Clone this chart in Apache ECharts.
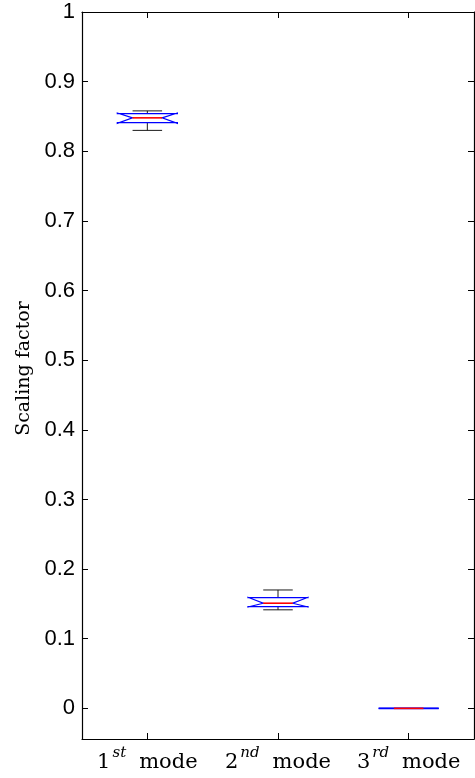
<!DOCTYPE html>
<html>
<head>
<meta charset="utf-8">
<script src="https://cdn.jsdelivr.net/npm/echarts@6/dist/echarts.min.js"></script>
<style>
  html, body { margin: 0; padding: 0; background: #fff; }
  #chart { width: 475px; height: 778px; }
</style>
</head>
<body>
<div id="chart"></div>
<script>
// Mode ordinals and their superscripts
const modeNumbers = ['1', '2', '3'];
const modeSuffixes = ['st', 'nd', 'rd'];

// Box statistics per mode
const whiskerLow  = [0.830, 0.1415, 0.000];
const quartile1   = [0.841, 0.146, 0.000];
const medians     = [0.848, 0.151, 0.000];
const quartile3   = [0.854, 0.159, 0.000];
const whiskerHigh = [0.858, 0.170, 0.000];
// Notch bounds around the median
const notchLow    = [0.840, 0.1455, 0.000];
const notchHigh   = [0.855, 0.1595, 0.000];

// Y tick values
const yTicks = [0, 0.1, 0.2, 0.3, 0.4, 0.5, 0.6, 0.7, 0.8, 0.9, 1];

const categories = modeNumbers.map((n, i) => n + '|' + modeSuffixes[i]);
const boxData = categories.map((c, i) => [i, whiskerLow[i], quartile1[i], medians[i], quartile3[i], whiskerHigh[i], notchLow[i], notchHigh[i]]);

function renderBox(params, api) {
  const idx = api.value(0);
  const band = api.size([1, 0])[0];
  const boxHalf = band * 0.23;
  const capHalf = band * 0.113;
  const notchHalf = band * 0.113;
  const y = k => api.coord([idx, api.value(k)])[1];
  const cx = api.coord([idx, 0])[0];
  const wLo = y(1), q1 = y(2), med = y(3), q3 = y(4), wHi = y(5), nLo = y(6), nHi = y(7);
  const L = cx - boxHalf, R = cx + boxHalf;
  const black = { stroke: '#1a1a1a', lineWidth: 1, fill: null };
  const children = [];
  if (wHi < q3 - 0.5) {
    children.push({ type: 'line', shape: { x1: cx, y1: wHi, x2: cx, y2: q3 }, style: black });
    children.push({ type: 'line', shape: { x1: cx - capHalf, y1: wHi, x2: cx + capHalf, y2: wHi }, style: black });
  }
  if (wLo > q1 + 0.5) {
    children.push({ type: 'line', shape: { x1: cx, y1: q1, x2: cx, y2: wLo }, style: black });
    children.push({ type: 'line', shape: { x1: cx - capHalf, y1: wLo, x2: cx + capHalf, y2: wLo }, style: black });
  }
  // notched box outline
  children.push({
    type: 'polygon',
    shape: { points: [
      [L, q3], [R, q3], [R, nHi], [cx + notchHalf, med], [R, nLo], [R, q1],
      [L, q1], [L, nLo], [cx - notchHalf, med], [L, nHi]
    ] },
    style: { stroke: '#0000ff', lineWidth: 1.2, fill: 'rgba(255,255,255,0)' }
  });
  if (Math.abs(q1 - q3) < 1) {
    children.push({ type: 'line', shape: { x1: L, y1: med, x2: R, y2: med }, style: { stroke: '#0000ff', lineWidth: 1.6 } });
  }
  children.push({ type: 'line', shape: { x1: cx - notchHalf, y1: med, x2: cx + notchHalf, y2: med }, style: { stroke: '#ff0000', lineWidth: 1.6 } });
  return { type: 'group', children };
}

const tickFmt = v => String(+(+v).toFixed(1));
const serif = 'DejaVu Serif';

const chart = echarts.init(document.getElementById('chart'), null, { renderer: 'canvas' });
chart.setOption({
  animation: false,
  backgroundColor: '#fff',
  grid: { left: 82, right: 1, top: 12, bottom: 39 },
  xAxis: [
    {
      type: 'category', data: categories, position: 'bottom', boundaryGap: true,
      axisLine: { show: true, onZero: false, lineStyle: { color: '#000', width: 1.2 } },
      axisTick: { show: true, inside: true, alignWithLabel: true, length: 6, lineStyle: { color: '#000' } },
      axisLabel: {
        interval: 0,
        hideOverlap: false,
        margin: 10,
        formatter: v => {
          const [n, s] = v.split('|');
          return '{n|' + n + '}{s|' + s + '}{m|mode}';
        },
        rich: {
          n: { fontFamily: serif, fontSize: 21, color: '#000', verticalAlign: 'bottom', lineHeight: 24, padding: [0, 2, 0, 0] },
          s: { fontFamily: serif, fontStyle: 'italic', fontSize: 15, color: '#000', verticalAlign: 'bottom', lineHeight: 16, padding: [0, 13, 12, 0] },
          m: { fontFamily: serif, fontSize: 21, color: '#000', verticalAlign: 'bottom', lineHeight: 24 }
        }
      },
      splitLine: { show: false }
    },
    {
      type: 'category', data: categories, position: 'top', boundaryGap: true,
      axisLine: { show: true, onZero: false, lineStyle: { color: '#000', width: 1.2 } },
      axisTick: { show: true, inside: true, alignWithLabel: true, length: 6, lineStyle: { color: '#000' } },
      axisLabel: { show: false },
      splitLine: { show: false }
    }
  ],
  yAxis: [
    {
      type: 'value', min: -0.044, max: 1, position: 'left',
      name: 'Scaling factor', nameLocation: 'middle', nameGap: 48,
      nameTextStyle: { fontFamily: serif, fontSize: 19, color: '#000', padding: [0, 0, 0, 14] },
      axisLine: { show: true, onZero: false, lineStyle: { color: '#000', width: 1.2 } },
      axisTick: { show: true, inside: true, length: 6, customValues: yTicks, lineStyle: { color: '#000' } },
      axisLabel: { customValues: yTicks, formatter: tickFmt, fontFamily: 'Liberation Sans', fontSize: 22, color: '#000', margin: 7 },
      splitLine: { show: false }
    },
    {
      type: 'value', min: -0.044, max: 1, position: 'right',
      axisLine: { show: true, onZero: false, lineStyle: { color: '#000', width: 1.2 } },
      axisTick: { show: true, inside: true, length: 6, customValues: yTicks, lineStyle: { color: '#000' } },
      axisLabel: { show: false },
      splitLine: { show: false }
    }
  ],
  series: [{
    type: 'custom',
    renderItem: renderBox,
    encode: { x: 0, y: [1, 2, 3, 4, 5] },
    data: boxData,
    clip: false
  }]
});
</script>
</body>
</html>
